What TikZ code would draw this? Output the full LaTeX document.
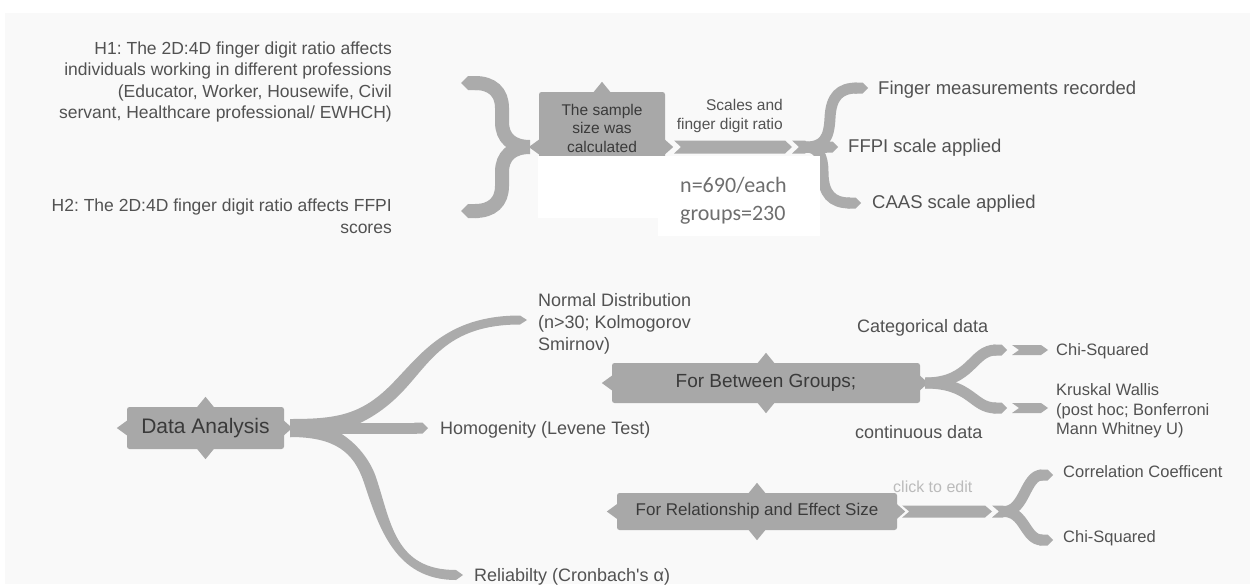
\documentclass[tikz,border=0pt]{standalone}
\usepackage{fontspec}
\setmainfont{Liberation Sans}
\newfontfamily\calfont{Carlito}
\usetikzlibrary{arrows.meta,calc}
\frenchspacing
\definecolor{bgc}{HTML}{F9F9F9}
\definecolor{brc}{HTML}{ABABAB}
\definecolor{boxc}{HTML}{A8A8A8}
\definecolor{tc}{HTML}{525252}
\definecolor{btc}{HTML}{3A3A3A}
\definecolor{ltc}{HTML}{BBBBBB}
\definecolor{ntc}{HTML}{6E6E6E}
\tikzset{
  lbl/.style={text=tc, inner sep=0pt, anchor=base west, align=left},
  branch/.style={draw=brc, line width=11pt, line cap=butt, -{Triangle Cap[]}},
  chev/.style={to path={-- ($(\tikztostart)+(-7,-#1)$) -- ($(\tikztotarget)+(-7,-#1)$) -- (\tikztotarget) -- ($(\tikztotarget)+(-7,#1)$) -- ($(\tikztostart)+(-7,#1)$) -- cycle}},
  boxn/.style={fill=boxc, rounded corners=2.5pt, inner sep=0pt, text=btc},
}
\newcommand\boxspikes[1]{%
  \fill[boxc] ($(#1.north)+(-9,1)$) -- ($(#1.north)+(0,-10)$) -- ($(#1.north)+(9,1)$) -- cycle;
  \fill[boxc] ($(#1.south)+(-9,-1)$) -- ($(#1.south)+(0,10)$) -- ($(#1.south)+(9,-1)$) -- cycle;
  \fill[boxc] ($(#1.west)+(1,-8)$) -- ($(#1.west)+(-10,0)$) -- ($(#1.west)+(1,8)$) -- cycle;
  \fill[boxc] ($(#1.east)+(-1,-8)$) -- ($(#1.east)+(8,0)$) -- ($(#1.east)+(-1,8)$) -- cycle;
}
\newcommand\straightquote{\XeTeXglyph\XeTeXcharglyph"27\relax}
\begin{document}
\begin{tikzpicture}[x=1pt,y=-1pt]
\useasboundingbox (0,0) rectangle (1257,584);
\fill[white] (0,0) rectangle (1257,584);
\fill[bgc] (5,13) rectangle (1250,584);

% ---------- boxes ----------
\node[boxn, minimum width=157pt, minimum height=42pt, font=\fontsize{21}{25}\selectfont] (da) at (205.5,428) {Data Analysis};
\node[boxn, minimum width=308pt, minimum height=40pt, font=\fontsize{19}{23}\selectfont] (fbg) at (766,383) {For Between Groups;};
\node[boxn, minimum width=280pt, minimum height=37pt, font=\fontsize{17}{20}\selectfont] (fres) at (757,511.5) {For Relationship and Effect Size};
\node[boxn, minimum width=126pt, minimum height=110pt] (samp) at (602,147) {};
\boxspikes{da}
\boxspikes{fbg}
\boxspikes{fres}
\boxspikes{samp}

% ---------- coordinates ----------
\coordinate (h1tip) at (461,83);
\coordinate (h2tip) at (461,211);
\coordinate (cusp) at (530,147);
\coordinate (scA) at (681,147);
\coordinate (scB) at (792,147);
\coordinate (rbA) at (799,147);
\coordinate (rbB) at (812,147);
\coordinate (rbS) at (806,147);
\coordinate (fmtip) at (868,88);
\coordinate (fftip) at (838,147);
\coordinate (catip) at (861,203);
\coordinate (daS) at ($(da.east)+(6,0)$);
\coordinate (ndtip) at (527,320);
\coordinate (homtip) at (428,428);
\coordinate (reltip) at (463,575);
\coordinate (fbgS) at ($(fbg.east)+(5,0)$);
\coordinate (cattip) at (1007,350);
\coordinate (contip) at (1007,408);
\coordinate (c1a) at (1019,350);
\coordinate (c1b) at (1048,350);
\coordinate (c2a) at (1019,408);
\coordinate (c2b) at (1048,408);
\coordinate (frA) at ($(fres.east)+(12,0)$);
\coordinate (frB) at (992,511.5);
\coordinate (frC) at (999,511.5);
\coordinate (frD) at (1010,511.5);
\coordinate (frS) at (1004,511.5);
\coordinate (cctip) at (1053,475);
\coordinate (chtip) at (1053,540);

% ---------- connectors: top ----------
\draw[branch, line width=14pt] (cusp) .. controls (512,147) and (502,138) .. (502,122) -- (502,108) .. controls (502,92) and (492,83) .. (h1tip);
\draw[branch, line width=14pt] (cusp) .. controls (512,147) and (502,156) .. (502,172) -- (502,186) .. controls (502,202) and (492,211) .. (h2tip);
\fill[brc] (scA) to[chev=6.5] (scB);
\fill[brc] (rbA) to[chev=6.5] (rbB);
\draw[branch] (rbS) .. controls (824,147) and (829,138) .. (830,118) .. controls (831,96) and (840,88) .. (fmtip);
\draw[branch] (rbS) -- (fftip);
\draw[branch] (rbS) .. controls (818,147) and (823,156) .. (823,172) .. controls (823,194) and (832,203) .. (catip);

% ---------- connectors: Data Analysis (tapered) ----------
\fill[brc] ($(daS)+(0,-9)$) .. controls (335,419) and (360.4,415.4) .. (390.4,385.4)
   .. controls (420.4,355.4) and (445,315.5) .. (520,315.5) -- (ndtip) -- (520,324.5)
   .. controls (445,324.5) and (429.6,364.6) .. (399.6,394.6)
   .. controls (369.6,424.6) and (335,437) .. ($(daS)+(0,9)$) -- cycle;
\draw[branch] (daS) -- (homtip);
\fill[brc] ($(daS)+(0,-9)$) .. controls (335,419) and (366.2,447.9) .. (376.2,477.9)
   .. controls (391.2,522.9) and (395,570) .. (456,570) -- (reltip) -- (456,580)
   .. controls (395,580) and (378.8,527.1) .. (363.8,482.1)
   .. controls (353.8,452.1) and (335,437) .. ($(daS)+(0,9)$) -- cycle;

% ---------- connectors: Between Groups ----------
\draw[branch] (fbgS) .. controls (972,383) and (972,350) .. (cattip);
\draw[branch] (fbgS) .. controls (972,383) and (972,408) .. (contip);
\fill[brc] (c1a) to[chev=5] (c1b);
\fill[brc] (c2a) to[chev=5] (c2b);

% ---------- connectors: Relationship ----------
\fill[brc] (frA) to[chev=6] (frB);
\fill[brc] (frC) to[chev=6] (frD);
\draw[branch] (frS) .. controls (1025,511.5) and (1025,475) .. (cctip);
\draw[branch] (frS) .. controls (1025,511.5) and (1025,540) .. (chtip);

% ---------- white cover ----------
\fill[white] (538,156) rectangle (660,218);
\fill[white] (658,156) rectangle (820,236);

% ---------- texts ----------
\node[lbl, anchor=base east, align=right, font=\fontsize{17.5}{21.5}\selectfont] (h1) at (392,118.5) {H1: The 2D:4D finger digit ratio affects\\individuals working in different professions\\(Educator, Worker, Housewife, Civil\\servant, Healthcare professional/ EWHCH)};
\node[lbl, anchor=base east, align=right, font=\fontsize{17.5}{22}\selectfont] (h2) at (392,233) {H2: The 2D:4D finger digit ratio affects FFPI\\scores};
\node[lbl, anchor=base, align=center, text=btc, font=\fontsize{15.5}{18.5}\selectfont] (samptxt) at (602,152) {The sample\\size was\\calculated};
\node[lbl, anchor=base east, align=right, font=\fontsize{15.5}{19}\selectfont] (scl) at (783,129) {Scales and\\finger digit ratio};
\node[lbl, text=ntc, font=\calfont\fontsize{22}{28}\selectfont] (nlab) at (680,220) {n=690/each\\groups=230};
\node[lbl, font=\fontsize{18.5}{22}\selectfont] (fm) at (878,94) {Finger measurements recorded};
\node[lbl, font=\fontsize{18.5}{22}\selectfont] (ff) at (848,152) {FFPI scale applied};
\node[lbl, font=\fontsize{18.5}{22}\selectfont] (ca) at (872,208) {CAAS scale applied};
\node[lbl, font=\fontsize{18}{22}\selectfont] (nd) at (538,350) {Normal Distribution\\(n>30; Kolmogorov\\Smirnov)};
\node[lbl, font=\fontsize{18}{22}\selectfont] (hom) at (440,434) {Homogenity (Levene Test)};
\node[lbl, font=\fontsize{18}{22}\selectfont] (rel) at (474,581) {Reliabilty (Cronbach\straightquote s α)};
\node[lbl, font=\fontsize{18}{22}\selectfont] (cat) at (857,332) {Categorical data};
\node[lbl, font=\fontsize{18}{22}\selectfont] (con) at (855,438) {continuous data};
\node[lbl, font=\fontsize{16.5}{19.5}\selectfont] (chi1) at (1056,355.5) {Chi-Squared};
\node[lbl, font=\fontsize{16.5}{19.5}\selectfont] (kw) at (1056,434.5) {Kruskal Wallis\\(post hoc; Bonferroni\\Mann Whitney U)};
\node[lbl, font=\fontsize{16.5}{19.5}\selectfont] (cc) at (1063,477.5) {Correlation Coefficent};
\node[lbl, font=\fontsize{16.5}{19.5}\selectfont] (chi2) at (1063,542.5) {Chi-Squared};
\node[lbl, text=ltc, font=\fontsize{16}{19}\selectfont] (cte) at (893,492.5) {click to edit};
\end{tikzpicture}
\end{document}
